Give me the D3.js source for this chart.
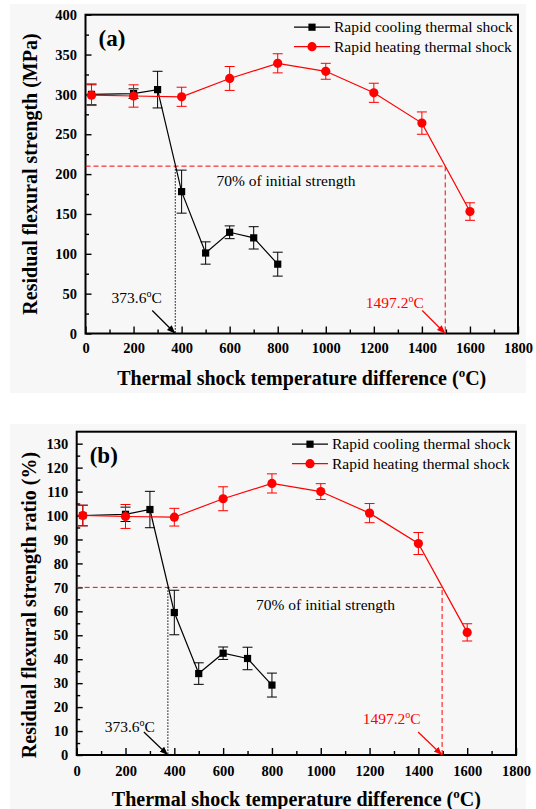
<!DOCTYPE html>
<html>
<head>
<meta charset="utf-8">
<script src="https://cdn.jsdelivr.net/npm/d3@7"></script>
<style>
body { margin: 0; background: #fff; }
svg, svg text { font-family: "Liberation Serif", "Times New Roman", serif; }
</style>
</head>
<body>
<div id="chart"></div>
<script>
// x values of each series (thermal shock temperature difference, C)
var coolTemps = [25, 200, 300, 400, 500, 600, 700, 800];
var heatTemps = [25, 200, 400, 600, 800, 1000, 1200, 1400, 1600];

// (a) residual flexural strength (MPa) with error
var coolStrength = [300, 301, 306, 178, 101, 127, 120, 87];
var coolStrengthErr = [13, 6, 23, 27, 14, 8, 14, 15];
var heatStrength = [299, 298, 297, 320, 339, 329, 302, 264, 153];
var heatStrengthErr = [13, 14, 12, 15, 12, 10, 12, 14, 11];

// (b) residual flexural strength ratio (%) with error
var coolRatio = [100, 100.5, 102.5, 59.5, 34, 42.5, 40.3, 29.2];
var coolRatioErr = [4.3, 3, 7.6, 9.3, 4.5, 2.6, 4.7, 5];
var heatRatio = [100, 99.6, 99.3, 107, 113.4, 110, 101, 88.3, 51.2];
var heatRatioErr = [4.3, 5, 3.7, 5, 4, 3.3, 4, 4.6, 3.6];

// tick labels
var xTicks = [0, 200, 400, 600, 800, 1000, 1200, 1400, 1600, 1800];
var strengthTicks = [0, 50, 100, 150, 200, 250, 300, 350, 400];
var ratioTicks = [0, 10, 20, 30, 40, 50, 60, 70, 80, 90, 100, 110, 120, 130];

// critical temperatures and 70% limits
var criticalCool = 373.6;
var criticalHeat = 1497.2;
var strengthLimit = 210;
var ratioLimit = 70;

var seriesNames = ["Rapid cooling thermal shock", "Rapid heating thermal shock"];

var serif = "'Liberation Serif', 'Times New Roman', serif";

var svgWidth = 536;
var svgHeight = 809;

var svg = d3.select("#chart")
    .append("svg")
    .attr("width", svgWidth)
    .attr("height", svgHeight)
    .style("font-family", serif);

svg.append("defs");

function zip(xs, ys, es) {
    return xs.map(function(d, i) {
        return { x: d, y: ys[i], e: es[i] };
    });
}

function tempText(sel, value) {
    sel.append("tspan").text(value);
    sel.append("tspan").attr("dy", -6).style("font-size", "10px").text("o");
    sel.append("tspan").attr("dy", 6).text("C");
}

function styleAxis(a) {
    a.attr("font-family", null).style("font-family", serif);
    a.select(".domain").remove();
    a.selectAll("line").attr("stroke-width", 1.4);
    a.selectAll("text")
        .style("font-family", serif)
        .style("font-size", "14.5px")
        .style("font-weight", "bold")
        .attr("fill", "#000");
}

function drawPanel(p) {
    var x = d3.scaleLinear().domain([0, 1800]).range([p.left, p.right]);
    var y = d3.scaleLinear().domain([0, p.yMax]).range([p.bottom, p.top]);

    var g = svg.append("g");

    g.append("rect")
        .attr("x", 10).attr("y", p.bgTop)
        .attr("width", 516).attr("height", p.bgHeight)
        .attr("fill", "#f7f7f7");

    // minor ticks
    g.append("g")
        .attr("transform", `translate(0, ${p.bottom})`)
        .call(d3.axisBottom(x).tickValues(d3.range(100, 1800, 200)).tickSize(-4).tickFormat(""))
        .call(styleAxis);

    g.append("g")
        .attr("transform", `translate(${p.left}, 0)`)
        .call(d3.axisLeft(y).tickValues(p.minorTicks).tickSize(-3.5).tickFormat(""))
        .call(styleAxis);

    // major ticks
    g.append("g")
        .attr("transform", `translate(0, ${p.bottom})`)
        .call(d3.axisBottom(x).tickValues(xTicks).tickSize(-7).tickPadding(p.xPad).tickFormat(d3.format("d")))
        .call(styleAxis);

    g.append("g")
        .attr("transform", `translate(${p.left}, 0)`)
        .call(d3.axisLeft(y).tickValues(p.yTicks).tickSize(-6).tickPadding(8.5).tickFormat(d3.format("d")))
        .call(styleAxis);

    // frame
    g.append("rect")
        .attr("x", p.left).attr("y", p.top)
        .attr("width", p.right - p.left).attr("height", p.bottom - p.top)
        .attr("fill", "none").attr("stroke", "#000").attr("stroke-width", 2);

    // 70% guide lines
    g.append("path")
        .attr("d", `M${x(0)},${y(p.limit)}H${x(criticalHeat)}V${y(0)}`)
        .attr("fill", "none").attr("stroke", "red")
        .attr("stroke-width", 1).attr("stroke-dasharray", "5,3");

    g.append("line")
        .attr("x1", x(criticalCool)).attr("x2", x(criticalCool))
        .attr("y1", y(p.limit)).attr("y2", y(0))
        .attr("stroke", "#000").attr("stroke-width", 1)
        .attr("stroke-dasharray", "1.5,1.5");

    g.append("text")
        .attr("x", x(p.limitTextAt)).attr("y", y(p.limit))
        .attr("dy", p.limitTextDy)
        .style("font-size", "15.5px")
        .text("70% of initial strength");

    // annotations with arrows
    function annotate(value, color, textDx, textDy, arrowDx, arrowDy, id) {
        var mk = svg.select("defs").append("marker")
            .attr("id", id)
            .attr("viewBox", "0 0 10 10")
            .attr("refX", 10).attr("refY", 5)
            .attr("markerWidth", 7).attr("markerHeight", 7)
            .attr("orient", "auto");
        mk.append("path").attr("d", "M0,1L10,5L0,9Z").attr("fill", color);
        var ex = x(value), ey = y(0);
        g.append("line")
            .attr("x1", ex + arrowDx).attr("y1", ey + arrowDy)
            .attr("x2", ex).attr("y2", ey)
            .attr("stroke", color).attr("stroke-width", 1.2)
            .attr("marker-end", `url(#${id})`);
        var t = g.append("text")
            .attr("x", ex + textDx).attr("y", ey + textDy)
            .attr("text-anchor", "end")
            .style("font-size", "15.5px")
            .attr("fill", color);
        tempText(t, value);
    }
    annotate(criticalCool, "#000", p.coolText[0], p.coolText[1], p.coolArrow[0], p.coolArrow[1], "arrowK" + p.id);
    annotate(criticalHeat, "red", p.heatText[0], p.heatText[1], p.heatArrow[0], p.heatArrow[1], "arrowR" + p.id);

    var line = d3.line().x(d => x(d.x)).y(d => y(d.y));

    function series(data, color, shape) {
        var s = g.append("g");
        s.selectAll("path.err")
            .data(data)
            .enter()
            .append("path")
            .attr("class", "err")
            .attr("d", d => `M${x(d.x)},${y(d.y - d.e)}V${y(d.y + d.e)}` +
                `M${x(d.x) - 5},${y(d.y - d.e)}h10M${x(d.x) - 5},${y(d.y + d.e)}h10`)
            .attr("stroke", color).attr("stroke-width", 1).attr("fill", "none");
        s.append("path")
            .datum(data)
            .attr("d", line)
            .attr("fill", "none").attr("stroke", color).attr("stroke-width", 1.2);
        if (shape === "square") {
            s.selectAll("rect")
                .data(data)
                .enter()
                .append("rect")
                .attr("x", d => x(d.x) - 3.6).attr("y", d => y(d.y) - 3.6)
                .attr("width", 7.2).attr("height", 7.2)
                .attr("fill", color);
        } else {
            s.selectAll("circle")
                .data(data)
                .enter()
                .append("circle")
                .attr("cx", d => x(d.x)).attr("cy", d => y(d.y))
                .attr("r", 4.6)
                .attr("fill", color);
        }
    }
    series(p.cool, "#000", "square");
    series(p.heat, "red", "circle");

    // panel letter
    g.append("text")
        .attr("x", p.left + 13).attr("y", p.top + 31)
        .style("font-size", "23px").style("font-weight", "bold")
        .text(p.letter);

    // legend
    var legend = g.append("g");
    [["#000", "square"], ["red", "circle"]].forEach(function(d, i) {
        var ly = p.top + 12.5 + i * 19.5;
        var lx = p.right - 224;
        legend.append("line")
            .attr("x1", lx).attr("x2", lx + 36)
            .attr("y1", ly).attr("y2", ly)
            .attr("stroke", d[0]).attr("stroke-width", 1.2);
        if (d[1] === "square") {
            legend.append("rect")
                .attr("x", lx + 18 - 3.6).attr("y", ly - 3.6)
                .attr("width", 7.2).attr("height", 7.2).attr("fill", d[0]);
        } else {
            legend.append("circle")
                .attr("cx", lx + 18).attr("cy", ly).attr("r", 4.6).attr("fill", d[0]);
        }
        legend.append("text")
            .attr("x", lx + 40).attr("y", ly).attr("dy", "0.33em")
            .style("font-size", "15.5px")
            .text(seriesNames[i]);
    });

    // axis titles
    g.append("text")
        .attr("transform", `translate(${p.yTitleX}, ${p.yTitleY}) rotate(-90)`)
        .attr("text-anchor", "middle")
        .attr("dy", "0.35em")
        .style("font-size", "20px").style("font-weight", "bold")
        .text(p.yTitle);

    var xt = g.append("text")
        .attr("x", (p.left + p.right) / 2).attr("y", p.xTitleY)
        .attr("text-anchor", "middle")
        .attr("dy", "0.35em")
        .style("font-size", "20px").style("font-weight", "bold");
    xt.append("tspan").text("Thermal shock temperature difference (");
    xt.append("tspan").attr("dy", -8).style("font-size", "13px").text("o");
    xt.append("tspan").attr("dy", 8).text("C)");
}

drawPanel({
    id: "a", letter: "(a)",
    left: 85.5, right: 518, top: 14.7, bottom: 333.5,
    bgTop: 4, bgHeight: 389,
    yMax: 400, yTicks: strengthTicks, minorTicks: d3.range(25, 400, 50),
    xPad: 9.5,
    limit: strengthLimit, limitTextAt: 545, limitTextDy: 20,
    coolText: [-13.5, -31], coolArrow: [-23, -23],
    heatText: [-21.5, -26], heatArrow: [-23, -23],
    cool: zip(coolTemps, coolStrength, coolStrengthErr),
    heat: zip(heatTemps, heatStrength, heatStrengthErr),
    yTitle: "Residual flexural strength (MPa)", yTitleX: 30, yTitleY: 174,
    xTitleY: 378
});

drawPanel({
    id: "b", letter: "(b)",
    left: 76.7, right: 516, top: 431.7, bottom: 755,
    bgTop: 424, bgHeight: 385,
    yMax: 135, yTicks: ratioTicks, minorTicks: d3.range(5, 135, 10),
    xPad: 11,
    limit: ratioLimit, limitTextAt: 735, limitTextDy: 23,
    coolText: [-13, -23.5], coolArrow: [-24, -23],
    heatText: [-21.5, -31.5], heatArrow: [-24, -23],
    cool: zip(coolTemps, coolRatio, coolRatioErr),
    heat: zip(heatTemps, heatRatio, heatRatioErr),
    yTitle: "Residual flexural strength ratio (%)", yTitleX: 29, yTitleY: 605,
    xTitleY: 799
});
</script>
</body>
</html>
